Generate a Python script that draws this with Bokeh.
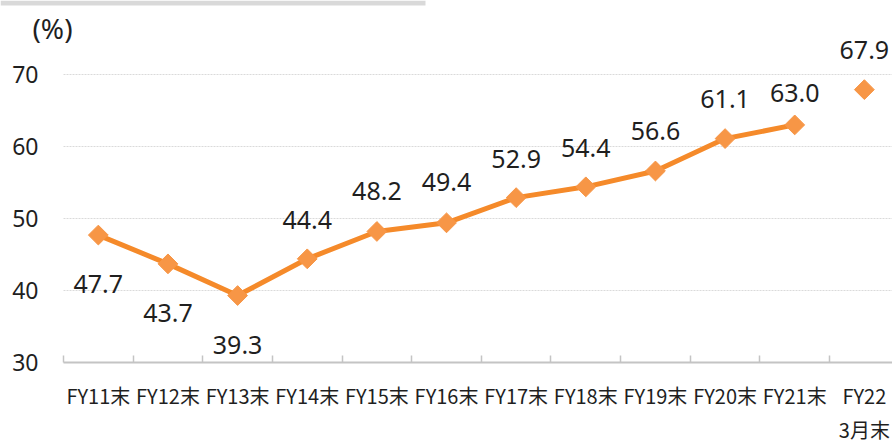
from bokeh.plotting import figure
from bokeh.models import FixedTicker, Range1d, Label, BoxAnnotation, ColumnDataSource
from bokeh.core.properties import value
from bokeh.embed import file_html
from bokeh.resources import INLINE

# ---- data ----
categories = ["FY11末", "FY12末", "FY13末", "FY14末", "FY15末", "FY16末",
              "FY17末", "FY18末", "FY19末", "FY20末", "FY21末", "FY22\n3月末"]
ratios = [47.7, 43.7, 39.3, 44.4, 48.2, 49.4, 52.9, 54.4, 56.6, 61.1, 63.0, 67.9]
value_labels = ["47.7", "43.7", "39.3", "44.4", "48.2", "49.4", "52.9",
                "54.4", "56.6", "61.1", "63.0", "67.9"]
y_ticks = [30, 40, 50, 60, 70]
n_line = 11  # FY11..FY21 joined by the line; FY22 3月末 standalone

# ---- styles ----
label_offsets = [49, 49, 49, -39, -40, -41, -39, -39, -40, -40, -32, -40]
LINE_C = "#F58A2A"
MARK_C = "#F79646"
TXT_C = "#1f1f1f"
X_START, X_END = -0.9047, 11.904
Y_START, Y_END = 18.75, 80.28
Y_BASE = 30

xs = [i + 0.5 for i in range(len(categories))]

p = figure(width=892, height=443, output_backend="svg", toolbar_location=None,
           x_range=Range1d(X_START, X_END), y_range=Range1d(Y_START, Y_END),
           min_border_left=0, min_border_right=0, min_border_top=0,
           min_border_bottom=0)
p.outline_line_color = None
p.background_fill_color = "white"
p.border_fill_color = "white"

src_line = ColumnDataSource(dict(x=xs[:n_line], y=ratios[:n_line]))
src_all = ColumnDataSource(dict(x=xs, y=ratios, t=value_labels, off=label_offsets))

p.line("x", "y", source=src_line, line_color=LINE_C, line_width=5)
p.scatter("x", "y", source=src_all, marker="square", size=14, angle=0.785398,
          fill_color=MARK_C, line_color=MARK_C)
p.text("x", "y", text="t", source=src_all, y_offset="off",
       text_align="center", text_baseline="middle",
       text_font=value("Noto Sans"), text_font_size="25px", text_color=TXT_C)

# x axis: labels at category centres, tick marks at boundaries
xa = p.xaxis[0]
xa.fixed_location = Y_BASE
xa.bounds = (0, X_END)
xa.ticker = FixedTicker(ticks=xs, minor_ticks=list(range(len(categories))))
xa.major_label_overrides = {x: c for x, c in zip(xs, categories)}
xa.major_tick_line_color = None
xa.minor_tick_line_color = "#c4c4c4"
xa.minor_tick_line_width = 1.5
xa.minor_tick_in = 7
xa.minor_tick_out = 0
xa.axis_line_color = "#c4c4c4"
xa.axis_line_width = 2
xa.major_label_standoff = 12
xa.major_label_text_font = "Noto Sans CJK JP"
xa.major_label_text_font_size = "20px"
xa.major_label_text_color = TXT_C

ya = p.yaxis[0]
ya.fixed_location = 0
ya.bounds = (Y_BASE, Y_END)
ya.ticker = FixedTicker(ticks=y_ticks)
ya.axis_line_color = None
ya.major_tick_line_color = None
ya.minor_tick_line_color = None
ya.major_label_standoff = 19
ya.major_label_text_font = "Noto Sans"
ya.major_label_text_font_size = "23px"
ya.major_label_text_color = TXT_C

p.xgrid.grid_line_color = None
p.ygrid.ticker = FixedTicker(ticks=y_ticks[1:])
p.ygrid.grid_line_color = "#dadada"
p.ygrid.grid_line_width = 1
p.ygrid.grid_line_dash = "2 1"
try:
    p.ygrid.cross_bounds = (0, X_END)
except Exception:
    pass

p.add_layout(Label(x=-0.158, y=76.4, text="(%)", text_align="center",
                   text_baseline="middle", text_font="Noto Sans",
                   text_font_size="28px", text_color=TXT_C))
p.add_layout(BoxAnnotation(left=X_START, right=5.198, top=Y_END, bottom=Y_END - 0.7,
                           fill_color="#d9d9d9", fill_alpha=1, line_color=None))

open("out.html", "w").write(file_html(p, INLINE))
